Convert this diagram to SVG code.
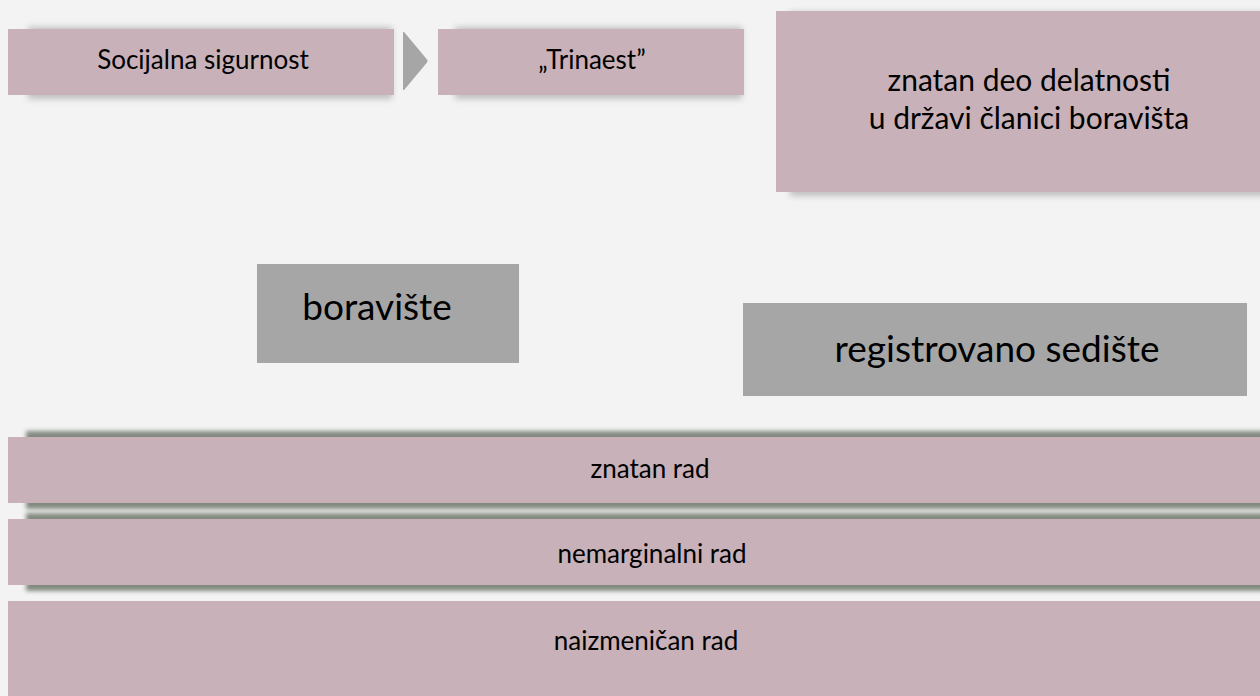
<svg xmlns="http://www.w3.org/2000/svg" width="1260" height="696" viewBox="0 0 1260 696">
  <defs>
    <filter id="soft" x="-10%" y="-50%" width="120%" height="200%">
      <feGaussianBlur stdDeviation="3"/>
    </filter>
    <filter id="barsh" x="-5%" y="-50%" width="110%" height="200%">
      <feGaussianBlur stdDeviation="2.2"/>
    </filter>
  </defs>
  <style>
    .pink { fill: #C8B1B8; }
    .gray { fill: #A6A6A6; }
    .sh { fill: #8c8c8c; opacity: 0.5; }
    .barsh { fill: #6f786c; opacity: 0.85; }
    text { font-family: Lato, "Liberation Sans", sans-serif; fill: #000; text-anchor: middle; }
    .s { font-size: 26px; }
    .m { font-size: 30px; }
    .l { font-size: 37px; }
  </style>
  <rect x="0" y="0" width="1260" height="696" fill="#F3F3F3"/>

  <g id="connectors">
    <path d="M403,33 Q403,31 404.5,32.5 L427,59.5 Q428,61 427,62.5 L404.5,89.5 Q403,91 403,89 Z" class="gray"/>
  </g>

  <g id="node-socijalna">
    <rect x="28" y="27" width="364" height="72" class="sh" filter="url(#soft)"/>
    <rect x="8" y="29" width="386" height="66" class="pink"/>
    <text x="203" y="69" class="s">Socijalna sigurnost</text>
  </g>

  <g id="node-trinaest">
    <rect x="455" y="27" width="287" height="72" class="sh" filter="url(#soft)"/>
    <rect x="438" y="29" width="306" height="66" class="pink"/>
    <text x="592" y="69" class="s">„Trinaest”</text>
  </g>

  <g id="node-znatan-deo">
    <rect x="790" y="12" width="490" height="184" class="sh" filter="url(#soft)"/>
    <rect x="776" y="11" width="506" height="181" class="pink"/>
    <text x="1029" y="91" class="m">znatan deo delatnosti</text>
    <text x="1029" y="129" class="m">u državi članici boravišta</text>
  </g>

  <g id="node-boraviste">
    <rect x="257" y="264" width="262" height="99" class="gray"/>
    <text x="377" y="320" class="l">boravište</text>
  </g>

  <g id="node-registrovano">
    <rect x="743" y="303" width="504" height="93" class="gray"/>
    <text x="997" y="362" class="l">registrovano sedište</text>
  </g>

  <g id="node-znatan-rad">
    <rect x="26" y="431" width="1270" height="78" class="barsh" filter="url(#barsh)"/>
    <rect x="8" y="437" width="1284" height="66" class="pink"/>
    <text x="650" y="478" class="s">znatan rad</text>
  </g>

  <g id="node-nemarginalni">
    <rect x="26" y="513" width="1270" height="78" class="barsh" filter="url(#barsh)"/>
    <rect x="8" y="519" width="1284" height="66" class="pink"/>
    <text x="652" y="563" class="s">nemarginalni rad</text>
  </g>

  <g id="node-naizmenican">
    <rect x="8" y="601" width="1284" height="95" class="pink"/>
    <text x="646" y="650" class="s">naizmeničan rad</text>
  </g>
</svg>
